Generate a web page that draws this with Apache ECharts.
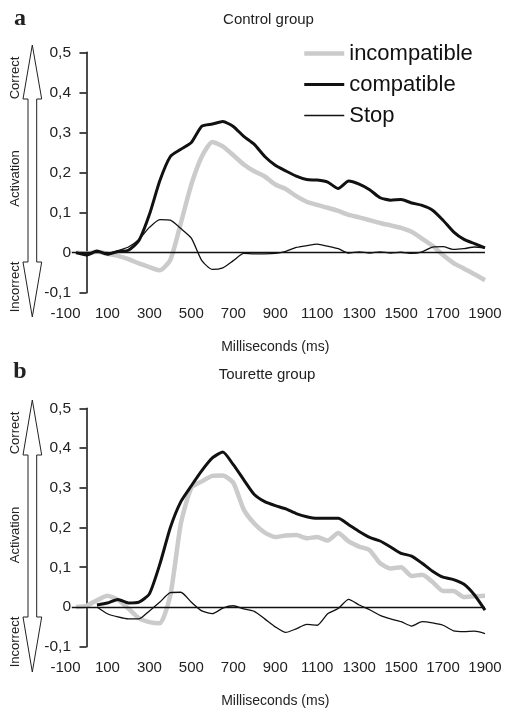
<!DOCTYPE html>
<html><head><meta charset="utf-8">
<script src="https://cdn.jsdelivr.net/npm/echarts@6/dist/echarts.min.js"></script>
<style>html,body{margin:0;padding:0;background:#fff}#c{width:512px;height:719px}</style>
</head><body><div id="c"></div><script>
// time (ms)
const ms = [-50,0,50,100,150,200,250,300,350,400,450,500,550,600,650,700,750,800,850,900,
  950,1000,1050,1100,1150,1200,1250,1300,1350,1400,1450,1500,1550,1600,1650,1700,1750,1800,1850,1900];
// Control group
const ctlIncompatible = [0,-0.002,0.002,-0.003,-0.008,-0.016,-0.027,-0.036,-0.044,-0.018,0.074,0.17,0.24,0.276,0.265,0.243,0.22,0.203,0.19,0.17,
  0.159,0.141,0.127,0.119,0.112,0.104,0.094,0.088,0.081,0.074,0.068,0.062,0.052,0.035,0.017,-0.006,-0.026,-0.04,-0.054,-0.069];
const ctlCompatible = [0,-0.006,0.004,-0.004,0.003,0.006,0.03,0.095,0.18,0.24,0.258,0.275,0.316,0.321,0.327,0.315,0.29,0.27,0.24,0.218,
  0.204,0.191,0.1825,0.181,0.176,0.16,0.179,0.171,0.157,0.137,0.131,0.1325,0.124,0.118,0.106,0.081,0.052,0.033,0.0225,0.012];
const ctlStop = [0,-0.003,0.004,-0.004,0.005,0.014,0.033,0.063,0.0825,0.081,0.06,0.036,-0.02,-0.042,-0.038,-0.02,-0.002,-0.003,-0.003,-0.002,
  0.003,0.013,0.0175,0.021,0.016,0.01,-0.001,0.002,-0.001,0.002,-0.001,0.001,-0.002,0.002,0.014,0.015,0.008,0.01,0.014,0.012];
// Tourette group
const touIncompatible = [0,0.003,0.017,0.028,0.018,-0.004,-0.028,-0.038,-0.041,0.03,0.21,0.3,0.316,0.33,0.331,0.3125,0.245,0.21,0.187,0.176,
  0.18,0.181,0.173,0.176,0.167,0.186,0.165,0.152,0.143,0.11,0.097,0.1,0.078,0.081,0.063,0.04,0.04,0.025,0.027,0.028];
const touCompatible = [null,null,0.005,0.01,0.019,0.01,0.012,0.033,0.108,0.2,0.265,0.305,0.343,0.375,0.39,0.358,0.32,0.283,0.265,0.255,
  0.247,0.235,0.227,0.223,0.223,0.223,0.207,0.19,0.175,0.166,0.151,0.135,0.128,0.11,0.09,0.075,0.069,0.057,0.03,-0.008];
const touStop = [null,null,0,-0.017,-0.025,-0.03,-0.03,-0.01,0.0125,0.036,0.037,0.012,-0.01,-0.017,-0.003,0.003,-0.005,-0.011,-0.03,-0.05,
  -0.064,-0.055,-0.044,-0.046,-0.017,-0.004,0.019,0.005,-0.007,-0.021,-0.03,-0.037,-0.048,-0.037,-0.04,-0.046,-0.06,-0.062,-0.061,-0.067];

const seriesNames = ['incompatible','compatible','Stop'];
const panelTitles = ['Control group','Tourette group'];
const panelLetters = ['a','b'];
const sideLabels = ['Correct','Activation','Incorrect'];
const xName = 'Milliseconds (ms)';

const FONT = '"Liberation Sans", Arial, sans-serif';
const pair = arr => ms.map((m,i)=>[m, arr[i]]);
const styles = [
  {color:'#cbcbcb', width:4.5},
  {color:'#111', width:3},
  {color:'#111', width:1.3}
];
const grids = [
  {left:65.5, right:27, top:52.3, height:240.4},
  {left:65.5, right:27, top:408.3, height:238.4}
];
function xAx(gi){
  return {type:'value', gridIndex:gi, min:-100, max:1900, interval:200,
    axisLine:{show:false}, axisTick:{show:false}, splitLine:{show:false},
    axisLabel:{fontSize:15, fontFamily:FONT, color:'#222', margin:14, formatter:v=>String(v)},
    name:xName, nameLocation:'middle', nameGap:47,
    nameTextStyle:{fontSize:14, fontFamily:FONT, color:'#222'}};
}
function yAx(gi){
  return {type:'value', gridIndex:gi, min:-0.1, max:0.5, interval:0.1, offset:-19.5,
    axisLine:{show:true, lineStyle:{color:'#111', width:1.5}},
    axisTick:{show:true, length:7, lineStyle:{color:'#111', width:1.5}},
    splitLine:{show:false},
    axisLabel:{fontSize:15.5, fontFamily:FONT, color:'#222', margin:14,
      formatter:v=>{const r=Math.round(v*10)/10; return r===0?'0':String(r).replace('.',',');}}};
}
const panelData = [[ctlIncompatible, ctlCompatible, ctlStop],[touIncompatible, touCompatible, touStop]];
const series = [];
panelData.forEach((sets,gi)=>{
  sets.forEach((arr,k)=>{
    const s = {name:seriesNames[k], type:'line', xAxisIndex:gi, yAxisIndex:gi,
      data:pair(arr), symbol:'none', smooth:0.2, connectNulls:false,
      lineStyle:{color:styles[k].color, width:styles[k].width},
      itemStyle:{color:styles[k].color}, z:2+k, animation:false};
    if(k===0){
      s.markLine = {silent:true, symbol:'none', label:{show:false}, animation:false,
        lineStyle:{color:'#111', width:1.3, type:'solid'},
        data:[[{coord:[-70,0]},{coord:[1900,0]}]]};
    }
    series.push(s);
  });
});

function arrow(top,headB,headB2,tip){
  return {type:'polygon', silent:true, z:1,
    shape:{points:[[32.3,top],[41.7,headB],[36.7,headB],[36.7,headB2],[41.7,headB2],[32.3,tip],[23,headB2],[28,headB2],[28,headB],[23,headB]]},
    style:{fill:'#fff', stroke:'#222', lineWidth:1}};
}
function txt(t,x,y,font,rot){
  return {type:'text', x:x, y:y, rotation:rot||0, silent:true,
    style:{text:t, font:font, fill:'#222', align:'center', verticalAlign:'middle', textAlign:'center', textVerticalAlign:'middle'}};
}
const sideFont = '13px ' + FONT;
const graphic = [
  arrow(45,99,262,317),
  arrow(400,455,617,672),
  txt(panelLetters[0],20,19,'bold 24px "Liberation Serif", serif'),
  txt(panelLetters[1],20,372,'bold 24px "Liberation Serif", serif'),
  txt(panelTitles[0],268.5,20,'15px '+FONT),
  txt(panelTitles[1],267,375,'15px '+FONT),
  txt(sideLabels[0],15,78,sideFont,Math.PI/2),
  txt(sideLabels[1],15,178.5,sideFont,Math.PI/2),
  txt(sideLabels[2],15,287,sideFont,Math.PI/2),
  txt(sideLabels[0],15,433,sideFont,Math.PI/2),
  txt(sideLabels[1],15,535,sideFont,Math.PI/2),
  txt(sideLabels[2],15,642,sideFont,Math.PI/2)
];

const chart = echarts.init(document.getElementById('c'), null, {renderer:'canvas'});
chart.setOption({
  animation:false,
  backgroundColor:'#fff',
  grid:grids,
  xAxis:[xAx(0), xAx(1)],
  yAxis:[yAx(0), yAx(1)],
  legend:{show:true, orient:'vertical', left:302, top:42.5, padding:0, itemWidth:40, itemHeight:12, itemGap:9,
    itemStyle:{opacity:0},
    data:seriesNames.map((n,k)=>({name:n, lineStyle:{width:styles[k].width, color:styles[k].color}})),
    textStyle:{fontSize:22, fontFamily:FONT, color:'#111'}},
  graphic:graphic,
  series:series
});
</script></body></html>
